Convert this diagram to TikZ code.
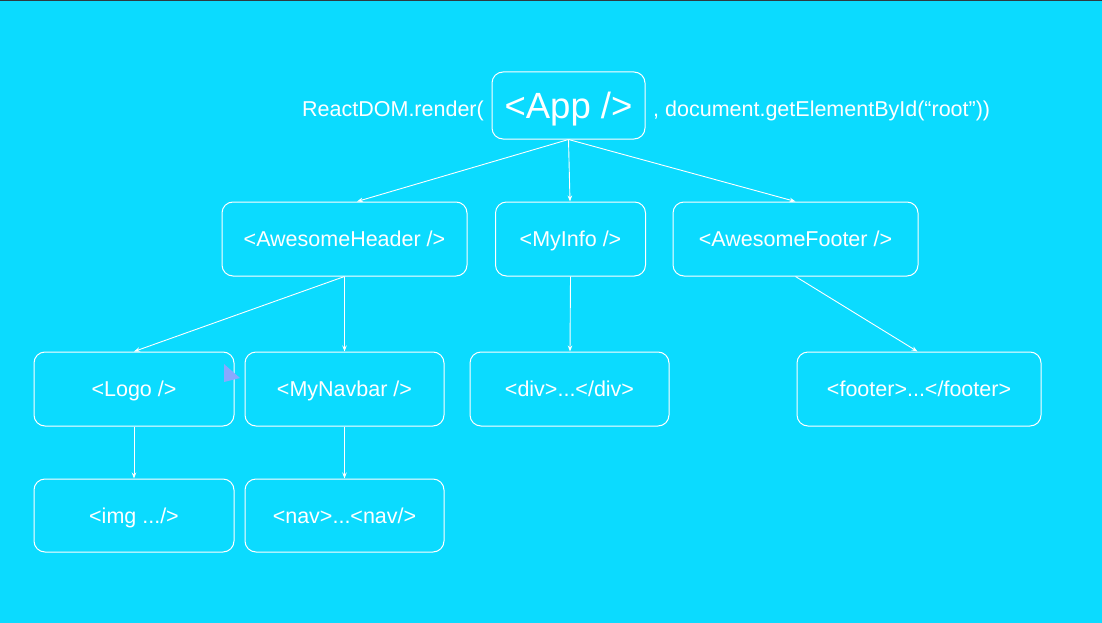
\documentclass[tikz,border=0pt]{standalone}
\usepackage{fontspec}
\setmainfont{Liberation Sans}
\usetikzlibrary{arrows.meta,calc}
\definecolor{bg}{HTML}{0BDBFF}
\definecolor{topline}{HTML}{2E3A42}
\definecolor{cursor}{HTML}{8AA8FF}
\tikzset{
  box/.style={draw=white, line width=1pt, rounded corners=11pt, inner sep=0pt,
    text=white, font=\fontsize{21.5pt}{25pt}\selectfont, text height=15.3pt, text depth=0pt},
  conn/.style={draw=white, line width=0.9pt, -{Stealth[length=6pt,width=4.5pt]}},
  plain/.style={text=white, font=\fontsize{21.5pt}{25pt}\selectfont, inner sep=0pt}
}
\begin{document}
\begin{tikzpicture}[x=1pt,y=-1pt]
\fill[bg] (0,0) rectangle (1102,623);
\useasboundingbox (0,0) rectangle (1102,623);
\fill[topline] (0,0) rectangle (1102,1.5);

\node[box, minimum width=153pt, minimum height=67pt, font=\fontsize{36.5pt}{40pt}\selectfont, text height=26pt] (app) at (568.5,105.5) {<App />};
\node[plain, anchor=base east] (pre) at (484,117) {ReactDOM.render(};
\node[plain, anchor=base west] (post) at (653,117) {, document.getElementById(“root”))};

\node[box, minimum width=245pt, minimum height=74pt] (header) at (344.5,239) {<AwesomeHeader />};
\node[box, minimum width=150pt, minimum height=74pt] (myinfo) at (570.5,239) {<MyInfo />};
\node[box, minimum width=245pt, minimum height=74pt] (afooter) at (795.5,239) {<AwesomeFooter />};

\node[box, minimum width=200pt, minimum height=74pt] (logo) at (134,389) {<Logo />};
\node[box, minimum width=199pt, minimum height=74pt] (navbar) at (344.5,389) {<MyNavbar />};
\node[box, minimum width=199pt, minimum height=74pt] (div) at (569.5,389) {<div>...</div>};
\node[box, minimum width=244pt, minimum height=74pt] (footer) at (919,389) {<footer>...</footer>};

\node[box, minimum width=200pt, minimum height=73pt] (img) at (134,515.5) {<img .../>};
\node[box, minimum width=199pt, minimum height=73pt] (nav) at (344.5,515.5) {<nav>...<nav/>};

\draw[conn] (app.south) -- ($(header.north)+(12.5,0)$);
\draw[conn] (app.south) -- ($(myinfo.north)+(-0.5,0)$);
\draw[conn] (app.south) -- (afooter.north);
\draw[conn] (header.south) -- (logo.north);
\draw[conn] (header.south) -- (navbar.north);
\draw[conn] (myinfo.south) -- ($(div.north)+(0.5,0)$);
\draw[conn] (afooter.south) -- ($(footer.north)+(-1.5,0)$);
\draw[conn] (logo.south) -- (img.north);
\draw[conn] (navbar.south) -- (nav.north);

\fill[cursor] (224,364) -- (240,378) -- (224,382) -- cycle;
\end{tikzpicture}
\end{document}
